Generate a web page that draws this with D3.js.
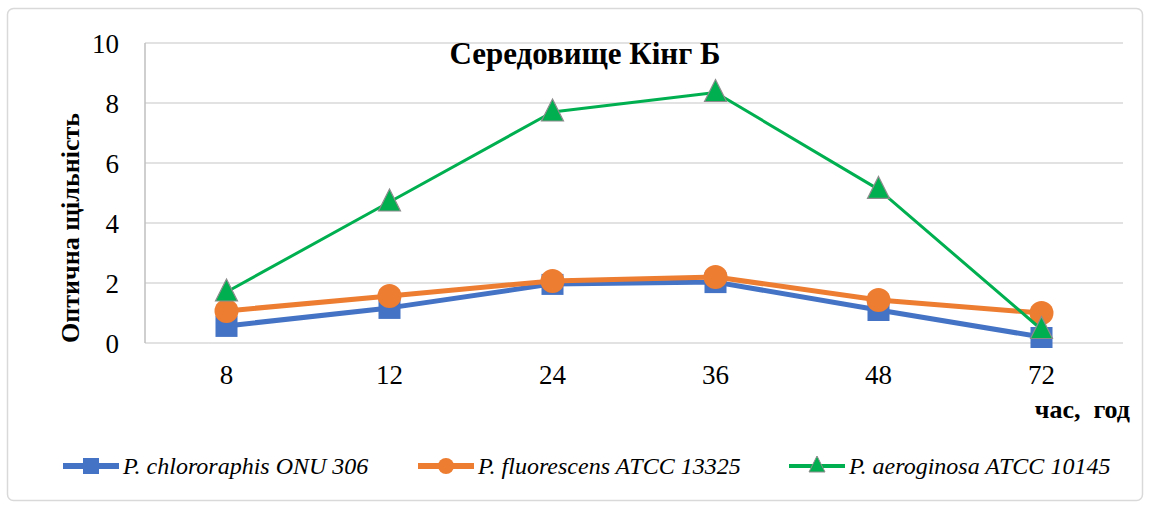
<!DOCTYPE html>
<html><head><meta charset="utf-8">
<script src="https://cdn.jsdelivr.net/npm/d3@7"></script>
<style>body{margin:0;background:#fff}svg{display:block}</style>
</head><body>
<svg id="chart" width="1151" height="508" font-family="Liberation Serif"></svg>
<script>
const categories = ["8","12","24","36","48","72"];
const seriesNames = ["P. chlororaphis ONU 306","P. fluorescens ATCC 13325","P. aeroginosa ATCC 10145"];
const chlororaphis = [0.57,1.17,1.97,2.03,1.1,0.2];
const fluorescens = [1.07,1.57,2.07,2.2,1.43,1.0];
const aeroginosa = [1.7,4.7,7.7,8.35,5.12,0.45];
const yTicks = [0,2,4,6,8,10];

const FONT="Liberation Serif";
const svg=d3.select("#chart");
svg.append("rect").attr("x",7.5).attr("y",8.5).attr("width",1135).attr("height",492).attr("rx",6)
  .attr("fill","#fff").attr("stroke","#d9d9d9").attr("stroke-width",1.5);

const m={l:145,r:1123,t:43,b:343};
const x=d3.scaleBand().domain(categories).range([m.l,m.r]);
const y=d3.scaleLinear().domain([0,10]).range([m.b,m.t]);

svg.append("g").selectAll("line").data(yTicks).join("line")
  .attr("x1",m.l).attr("x2",m.r).attr("y1",d=>y(d)).attr("y2",d=>y(d))
  .attr("stroke","#d9d9d9").attr("stroke-width",1.5);
svg.append("line").attr("x1",m.l).attr("x2",m.l).attr("y1",m.t).attr("y2",m.b).attr("stroke","#bfbfbf").attr("stroke-width",1.5);

const ya=svg.append("g").attr("transform",`translate(${m.l},0)`).call(d3.axisLeft(y).tickValues(yTicks).tickSize(0).tickPadding(26));
ya.attr("font-family",FONT);
ya.select(".domain").remove();
ya.selectAll("text").attr("font-family",FONT).attr("font-size",27).attr("fill","#000").attr("dy","0.35em");
const xa=svg.append("g").attr("transform",`translate(0,${m.b})`).call(d3.axisBottom(x).tickSize(0).tickPadding(22));
xa.attr("font-family",FONT);
xa.select(".domain").remove();
xa.selectAll("text").attr("font-family",FONT).attr("font-size",27).attr("fill","#000");

svg.append("text").attr("x",585).attr("y",64).attr("text-anchor","middle").attr("font-family",FONT)
  .attr("font-weight","bold").attr("font-size",31).text("Середовище Кінг Б");
svg.append("text").attr("transform","translate(79,228) rotate(-90)").attr("text-anchor","middle").attr("font-family",FONT)
  .attr("font-weight","bold").attr("font-size",26).text("Оптична щільність");
svg.append("text").attr("x",1130).attr("y",418).attr("text-anchor","end").attr("font-family",FONT)
  .attr("font-weight","bold").attr("font-size",26).style("white-space","pre").text("час,  год");

const series=[
 {name:seriesNames[0],vals:chlororaphis,color:"#4472c4",w:5,shape:"square"},
 {name:seriesNames[1],vals:fluorescens,color:"#ed7d31",w:5,shape:"circle"},
 {name:seriesNames[2],vals:aeroginosa,color:"#00b050",w:3,shape:"triangle"}
];
const cx=c=>x(c)+x.bandwidth()/2;
function marker(g,shape,color,px,py){
  if(shape==="square") g.append("rect").attr("x",px-11).attr("y",py-10).attr("width",22).attr("height",21).attr("fill",color);
  else if(shape==="circle") g.append("circle").attr("cx",px).attr("cy",py).attr("r",12).attr("fill",color);
  else g.append("path").attr("d",`M${px},${py-13}L${px+11},${py+9}L${px-11},${py+9}Z`).attr("fill",color).attr("stroke","#8c8c8c").attr("stroke-width",1.2);
}
const line=d3.line().x((d,i)=>cx(categories[i])).y(d=>y(d));
series.forEach(s=>{
  const g=svg.append("g");
  g.append("path").datum(s.vals).attr("d",line).attr("fill","none").attr("stroke",s.color).attr("stroke-width",s.w).attr("stroke-linejoin","round");
  s.vals.forEach((v,i)=>marker(g,s.shape,s.color,cx(categories[i]),y(v)));
});

const lx=[63,418,789];
series.forEach((s,i)=>{
  const g=svg.append("g");
  const ly=466;
  g.append("line").attr("x1",lx[i]).attr("x2",lx[i]+56).attr("y1",ly).attr("y2",ly).attr("stroke",s.color).attr("stroke-width",s.w+1);
  const mx=lx[i]+28;
  if(s.shape==="square") g.append("rect").attr("x",mx-8).attr("y",ly-8).attr("width",16).attr("height",16).attr("fill",s.color);
  else if(s.shape==="circle") g.append("circle").attr("cx",mx).attr("cy",ly).attr("r",8).attr("fill",s.color);
  else g.append("path").attr("d",`M${mx},${ly-10}L${mx+8},${ly+6}L${mx-8},${ly+6}Z`).attr("fill",s.color).attr("stroke","#8c8c8c");
  g.append("text").attr("x",lx[i]+60).attr("y",ly+8).attr("font-family",FONT).attr("font-style","italic").attr("font-size",24).text(s.name);
});
</script>
</body></html>
